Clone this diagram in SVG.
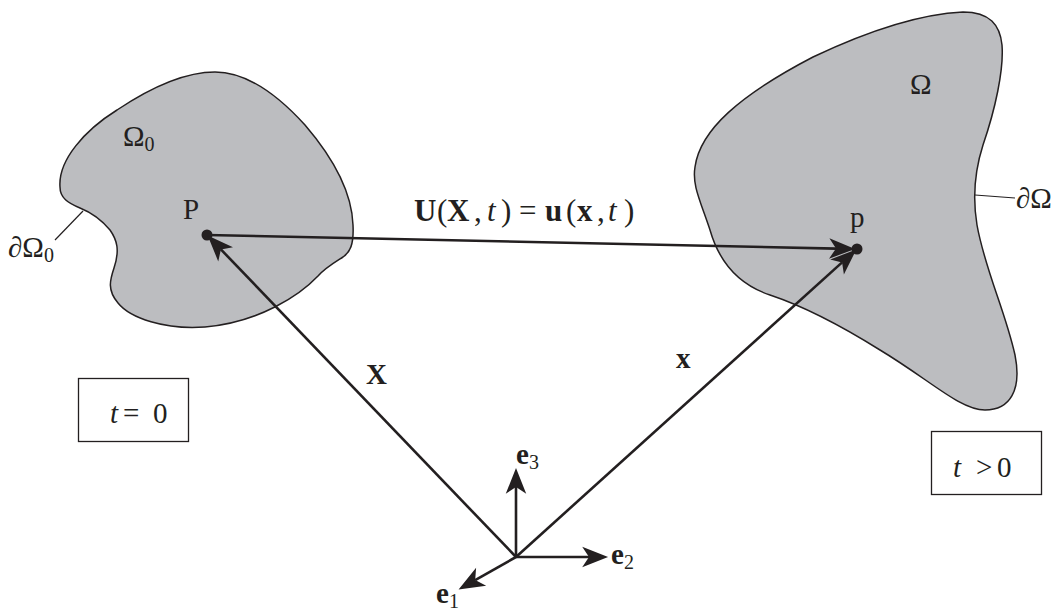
<svg xmlns="http://www.w3.org/2000/svg" width="1059" height="610" viewBox="0 0 1059 610">
<style>
.body{fill:#bcbdc0;stroke:#231f20;stroke-width:1.5}
.lead{stroke:#231f20;stroke-width:1.2;fill:none}
.arr{stroke:#231f20;stroke-width:2.6;fill:none}
.dot{fill:#231f20}
.box{fill:#fff;stroke:#231f20;stroke-width:1.3}
text{font-family:"Liberation Serif","DejaVu Serif",serif;fill:#231f20;font-size:29px}
.f{font-size:31px}
.b{font-weight:bold}
.i{font-style:italic}
.sub{font-size:20px}
</style>
<defs>
<marker id="ah" markerUnits="userSpaceOnUse" markerWidth="30" markerHeight="30" viewBox="-6 -10 22 20" refX="0" refY="0" orient="auto">
<path d="M14,0 L-5,-7.5 L0,0 L-5,7.5 Z" fill="#231f20"/>
</marker>
</defs>
<g id="body0">
<path class="body" d="M60,187 C58,160 85,130 117,110 C150,88 185,72 215,72 C245,72 275,92 305,125 C335,160 352,195 353,225 C354,245 350,252 343,257 C332,264 325,268 318,276 C300,295 260,322 205,327 C165,330 130,318 118,303 C107,290 110,280 114,268 C120,250 117,240 110,230 C100,218 90,212 80,208 C68,203 60,198 60,187 Z"/>
<line class="lead" x1="55" y1="240" x2="83" y2="211"/>
<text x="123" y="146">Ω<tspan class="sub" dy="5">0</tspan></text>
<text x="8" y="257">∂Ω<tspan class="sub" dy="5">0</tspan></text>
</g>
<g id="body1">
<path class="body" d="M695,167 C700,130 740,95 813,57 C870,30 920,14 963,12 C990,12 1000,25 1002,45 C1004,70 995,110 983,145 C975,170 972,195 977,225 C985,270 1005,310 1015,355 C1022,390 1010,410 985,410 C960,410 930,380 880,350 C840,325 800,305 770,295 C740,285 720,265 710,230 C700,200 692,185 695,167 Z"/>
<line class="lead" x1="975" y1="195" x2="1015" y2="198"/>
<text x="910" y="94">Ω</text>
<text x="1016" y="208">∂Ω</text>
</g>
<g id="pointP">
<circle class="dot" cx="207" cy="235" r="5.5"/>
<text x="183" y="219">P</text>
</g>
<g id="pointp">
<circle class="dot" cx="857" cy="249" r="5.5"/>
<text x="850" y="227">p</text>
</g>
<g id="connectors">
<line class="arr" x1="207" y1="235" x2="836" y2="248.6" marker-end="url(#ah)"/>
<line class="arr" x1="516" y1="557" x2="220.9" y2="249.4" marker-end="url(#ah)"/>
<line class="arr" x1="516" y1="557" x2="842.1" y2="262.4" marker-end="url(#ah)"/>
<line class="arr" x1="516" y1="557" x2="516" y2="487" marker-end="url(#ah)"/>
<line class="arr" x1="516" y1="557" x2="589" y2="557" marker-end="url(#ah)"/>
<line class="arr" x1="516" y1="557" x2="475.2" y2="580.1" marker-end="url(#ah)"/>
<text class="f" y="221"><tspan class="b" x="414">U</tspan><tspan x="437">(</tspan><tspan class="b" x="447">X</tspan><tspan x="474">,</tspan><tspan class="i" x="487">t</tspan><tspan x="501">)</tspan><tspan x="519">=</tspan><tspan class="b" x="545">u</tspan><tspan x="566">(</tspan><tspan class="b" x="577">x</tspan><tspan x="597">,</tspan><tspan class="i" x="608">t</tspan><tspan x="624">)</tspan></text>
<text class="b" x="366" y="384">X</text>
<text class="b" x="676" y="368">x</text>
</g>
<g id="basis">
<text x="516" y="464"><tspan class="b">e</tspan><tspan class="sub" dy="5">3</tspan></text>
<text x="611" y="564"><tspan class="b">e</tspan><tspan class="sub" dy="5">2</tspan></text>
<text x="436" y="603"><tspan class="b">e</tspan><tspan class="sub" dy="5">1</tspan></text>
</g>
<g id="box0">
<rect class="box" x="78.5" y="378.5" width="110" height="63"/>
<text y="423"><tspan class="i" x="110">t</tspan><tspan x="123">=</tspan><tspan x="153">0</tspan></text>
</g>
<g id="box1">
<rect class="box" x="931.5" y="431.5" width="110" height="63"/>
<text y="477"><tspan class="i" x="953">t</tspan><tspan x="976">&gt;</tspan><tspan x="997">0</tspan></text>
</g>
</svg>
